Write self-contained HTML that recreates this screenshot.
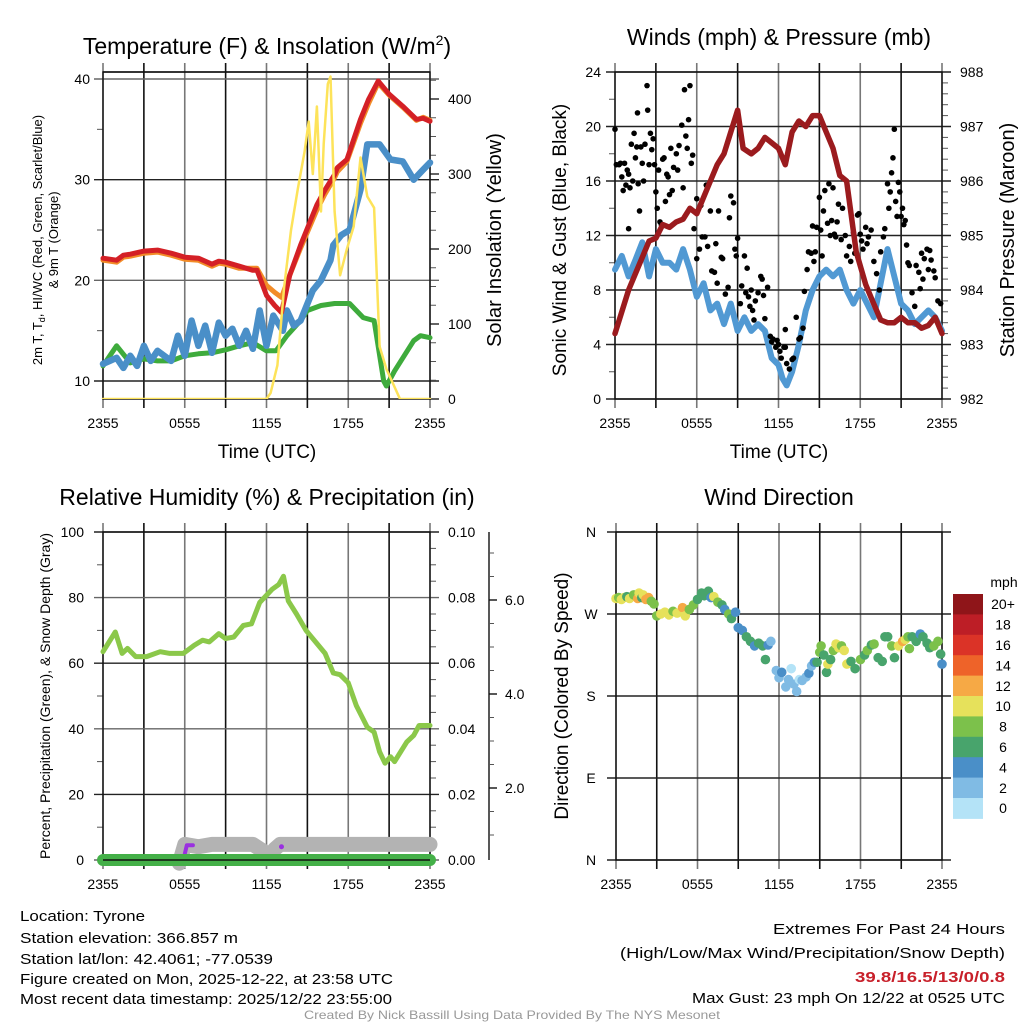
<!DOCTYPE html>
<html><head><meta charset="utf-8">
<style>
html,body{margin:0;padding:0;background:#fff;}
svg{display:block;font-family:"Liberation Sans",sans-serif;}
</style></head>
<body>
<svg id="c" width="1024" height="1024" viewBox="0 0 1024 1024" xmlns="http://www.w3.org/2000/svg">
<rect width="1024" height="1024" fill="#fff"/>
<g id="g"></g>
<text x="267" y="54" font-size="23" text-anchor="middle">Temperature (F) &amp; Insolation (W/m<tspan dy="-9" font-size="14">2</tspan><tspan dy="9">)</tspan></text>
<text x="779" y="45" font-size="23" text-anchor="middle">Winds (mph) &amp; Pressure (mb)</text>
<text x="267" y="505" font-size="23" text-anchor="middle">Relative Humidity (%) &amp; Precipitation (in)</text>
<text x="779" y="505" font-size="23" text-anchor="middle">Wind Direction</text>

<text transform="translate(42,240) rotate(-90)" font-size="13" text-anchor="middle">2m T, T<tspan font-size="9" dy="3">d</tspan><tspan dy="-3">, HI/WC (Red, Green, Scarlet/Blue)</tspan></text>
<text transform="translate(58,240) rotate(-90)" font-size="13" text-anchor="middle">&amp; 9m T (Orange)</text>
<text transform="translate(501,240) rotate(-90)" font-size="20" text-anchor="middle">Solar Insolation (Yellow)</text>
<text transform="translate(566,240) rotate(-90)" font-size="19" text-anchor="middle">Sonic Wind &amp; Gust (Blue, Black)</text>
<text transform="translate(1014,240) rotate(-90)" font-size="20" text-anchor="middle">Station Pressure (Maroon)</text>
<text transform="translate(50,696) rotate(-90)" font-size="14" text-anchor="middle">Percent, Precipitation (Green), &amp; Snow Depth (Gray)</text>
<text transform="translate(568,696) rotate(-90)" font-size="19" text-anchor="middle">Direction (Colored By Speed)</text>
<text x="267" y="458" font-size="19" text-anchor="middle">Time (UTC)</text>
<text x="779" y="458" font-size="19" text-anchor="middle">Time (UTC)</text>

<g font-size="15">
<text x="20" y="921" textLength="125" lengthAdjust="spacingAndGlyphs">Location: Tyrone</text>
<text x="20" y="943" textLength="218" lengthAdjust="spacingAndGlyphs">Station elevation: 366.857 m</text>
<text x="20" y="964" textLength="253" lengthAdjust="spacingAndGlyphs">Station lat/lon: 42.4061; -77.0539</text>
<text x="20" y="984" textLength="373" lengthAdjust="spacingAndGlyphs">Figure created on Mon, 2025-12-22, at 23:58 UTC</text>
<text x="20" y="1004" textLength="372" lengthAdjust="spacingAndGlyphs">Most recent data timestamp: 2025/12/22 23:55:00</text>
</g>
<g font-size="15" text-anchor="end">
<text x="1005" y="934" textLength="232" lengthAdjust="spacingAndGlyphs">Extremes For Past 24 Hours</text>
<text x="1005" y="958" textLength="385" lengthAdjust="spacingAndGlyphs">(High/Low/Max Wind/Precipitation/Snow Depth)</text>
<text x="1005" y="982" textLength="150" lengthAdjust="spacingAndGlyphs" fill="#c8202a" font-weight="bold">39.8/16.5/13/0/0.8</text>
<text x="1005" y="1003" textLength="313" lengthAdjust="spacingAndGlyphs">Max Gust: 23 mph On 12/22 at 0525 UTC</text>
</g>
<text x="512" y="1019" font-size="12" fill="#999" text-anchor="middle" textLength="416" lengthAdjust="spacingAndGlyphs">Created By Nick Bassill Using Data Provided By The NYS Mesonet</text>
</svg>
<script>
// ---------- DATA ----------
const xTickLabels = ["2355","0555","1155","1755","2355"];
// Temperature panel (hours since 2355)
const tempT = [0,1,1.5,2,3,4,5,6,7,8,8.5,9,10,11,11.3,12,12.6,13.1,13.7,14.5,15.7,16.3,17,17.2,17.9,18.9,19.5,20.2,21,22,23,23.5,24];
const tempRed = [22.2,22.0,22.5,22.6,22.9,23.0,22.7,22.3,22.2,21.6,21.9,21.8,21.4,21.0,21.0,18.5,17.5,16.8,20.5,23.5,27.5,29,30.5,31.2,32,36,38,39.8,38.5,37.3,36,36.1,35.8];
const tempOrange = [22.0,21.8,22.3,22.4,22.7,22.8,22.5,22.1,22.0,21.4,21.7,21.6,21.2,21.2,21.2,19.5,18.8,18.3,20.5,23.2,27,28.6,30.2,30.8,31.8,35.6,37.6,39.6,38.4,37.2,35.9,36.2,35.9];
const dewT = [0,0.5,1,2,3,4,5,6,7,8,9,10,11,12,12.7,13.5,14.5,15,16,17,18.1,19.1,19.9,20.6,20.8,21.4,22.8,23.3,24];
const dewV = [11.5,12.5,13.5,11.8,12.2,12.0,12.0,12.5,12.7,12.8,13.1,13.5,13.8,13.0,13.0,14.5,16.0,17.0,17.5,17.7,17.7,16.3,16.0,10.0,9.5,11,14,14.5,14.3];
const wcT = [0,0.5,1,1.5,2,2.5,3,3.5,4,5,5.5,6,6.5,7,7.5,8,8.5,9,9.5,10,10.5,11,11.5,12,12.5,13.2,13.5,14,14.5,15.4,16,16.7,16.9,17.5,18.1,18.9,19.4,20.3,21.1,22,22.8,23.5,24];
const wcV = [11.7,12,12.3,11.3,12.5,11.5,13.5,12,13,12,14.5,12.5,16,13.5,15.5,12.8,15.8,14.5,15.2,13.5,15,13.2,17,13.5,16.5,15,17,15.5,16,19,20,22,23.5,24.5,25,29,33.5,33.5,32,31.8,30,31,31.7];
const solarT = [0,12,12.3,12.8,13.3,13.8,14.3,14.8,15.1,15.4,15.7,16.0,16.2,16.5,16.7,17.0,17.4,17.9,18.4,18.9,19.4,19.9,20.3,20.8,21.3,21.8,24];
const solarV = [0,0,8,45,150,225,280,330,370,300,390,250,340,420,430,250,165,200,230,322,270,255,70,40,20,0,0];
// Wind panel
const windT = [0,0.5,1,1.5,2,2.5,3,3.5,4,4.5,5,5.5,6,6.5,7,7.5,8,8.5,9,9.5,10,10.5,11,11.5,12,12.3,12.6,13,13.5,14,14.5,15,15.5,16,16.5,17,17.5,18,18.5,19,19.5,20,20.5,21,21.5,22,22.5,23,23.5,24];
const windV = [9.5,10.5,9,10.2,11.5,9,11,10,10,9.5,11,9.5,7.5,8.5,6.5,7,5.5,7,5,6,5,5.5,5,3,2.5,1.5,1,2,4,6.5,8,9,9.5,9,9.5,8,7,8,7,6,8.5,11,9,7,6.5,5.5,6,6.5,6,5];
const presT = [0,0.5,1,1.5,2,2.5,3,3.5,4,4.5,5,5.5,6,6.5,7,7.5,8,8.5,9,9.4,10,10.5,11,11.5,12,12.5,13,13.5,14,14.5,15,15.5,16,16.5,17,17.7,18.4,18.9,19.5,20,20.5,21,21.5,22,22.5,23,23.5,24];
const presV = [983.2,983.6,984.0,984.3,984.6,984.9,984.95,985.2,985.15,985.25,985.3,985.5,985.4,985.7,986.0,986.3,986.5,986.9,987.3,986.6,986.5,986.6,986.8,986.7,986.6,986.3,986.9,987.1,987.0,987.2,987.2,986.9,986.6,986.1,986.0,984.7,984.1,983.8,983.45,983.4,983.4,983.5,983.4,983.4,983.3,983.35,983.5,983.2];
const gustT = [0,0.1,0.3,0.4,0.5,0.6,0.7,0.8,0.9,1.0,1.0,1.1,1.2,1.3,1.4,1.5,1.6,1.65,1.7,1.8,1.9,2.0,2.1,2.2,2.35,2.4,2.5,2.6,2.7,2.8,2.9,3.0,3.1,3.2,3.3,3.4,3.5,3.6,3.7,3.8,3.9,4.0,4.1,4.2,4.3,4.5,4.6,4.7,4.9,5.0,5.1,5.2,5.3,5.4,5.5,5.6,5.7,5.8,6.0,6.0,6.2,6.3,6.4,6.6,6.7,6.8,7.0,7.1,7.3,7.4,7.5,7.6,7.8,7.9,8.1,8.3,8.4,8.5,8.7,8.8,8.9,9.0,9.2,9.3,9.5,9.6,9.7,9.8,9.9,10.0,10.1,10.2,10.3,10.5,10.7,10.8,10.9,11.0,11.2,11.4,11.5,11.6,11.8,11.9,12.0,12.1,12.2,12.4,12.5,12.5,12.6,12.8,13.0,13.1,13.3,13.5,13.6,13.8,13.9,14.1,14.2,14.4,14.5,14.6,14.7,14.8,15.0,15.1,15.2,15.3,15.4,15.6,15.7,15.8,15.9,16.0,16.1,16.2,16.3,16.4,16.6,16.7,16.9,17.0,17.2,17.3,17.5,17.6,17.8,17.9,18.0,18.1,18.2,18.4,18.5,18.6,18.8,19.0,19.2,19.4,19.5,19.7,19.8,20.0,20.1,20.2,20.3,20.4,20.5,20.6,20.7,20.8,20.9,21.0,21.1,21.2,21.3,21.4,21.5,21.6,21.8,22.0,22.1,22.3,22.4,22.5,22.6,22.7,22.9,23.0,23.1,23.2,23.4,23.5,23.7,23.9];
const gustV = [19.8,17.2,17.2,17.3,16.3,15.3,17.3,15.7,16.8,16.5,12.5,15.5,18.7,16,19.5,17.7,18.5,21,15.8,13.8,18.5,17.3,16,18.7,23,21.2,17.2,19.5,18.3,19.1,17.2,15.2,14,16.8,13,12.8,17.6,17.7,14.5,16.5,16.3,15.0,18.4,15.3,17.0,18,16.8,18.6,20.1,15.5,22.7,19.3,18.4,20.5,23,17.3,17.9,12.5,14.7,10.3,11,14.2,11.9,11.9,15.7,11.2,13.8,9.4,9.3,11.4,8.5,13.8,10.4,10.3,7.7,8.2,13.3,14.9,14.4,11,10.5,11.8,7,8.3,10.5,7.8,9.6,7.5,6.8,8,6.5,5.8,7.2,7.8,9,8.8,7.6,5.9,8.2,4.6,4.2,4.4,3.8,4.3,4.0,3.5,3.0,3.8,3.8,5.1,2.6,2.2,2.9,3.0,6.0,4.4,4.5,5.2,7.9,9.5,10.8,10.7,12.7,10.1,10.8,12.6,14.8,12.4,10.5,13.8,15.3,12.9,15.8,12.0,13.1,15.5,12.1,11.9,13.0,14.3,11.7,14,12.0,10.5,11.2,10.1,12.2,10.7,13.5,13.6,12.1,11.6,11.0,12.6,11.4,11.9,12.4,10.1,9.2,8.0,10.8,11.9,12.5,15.8,14.0,15.2,16.6,17.7,19.8,14.5,13.4,15.9,15.2,13.4,14.0,12.8,13.1,11.3,10.0,9.8,7.8,6.8,9.8,9.3,8.1,10.7,8.8,10.3,11.0,9.5,10.9,10.2,9.4,8.9,7.2,7.0];
// RH panel
const rhT = [0,0.9,1.4,1.8,2.4,3.2,4.2,4.9,5.9,6.7,7.3,7.8,8.5,9.0,9.6,10.3,10.9,11.5,12.4,12.9,13.25,13.6,14.2,14.9,15.7,16.3,16.9,17.4,18.0,18.6,19.4,19.9,20.3,20.7,21.1,21.4,22.3,22.8,23.2,24];
const rhV = [63.5,69.5,63,64.5,62,62,63.5,63,63,65.5,67,66.5,69,67.5,68,71.5,72,78.5,82.5,84,86.5,79,75,70,66,63,57,56.5,54,47,40.5,39,33,29.5,31.5,30,36,38,41,41];
const precipT = [0,24];
const precipV = [0,0];
const snowT = [5.6,6.0,7.0,8.0,11.0,11.8,12.2,12.6,13.0,24];
const snowV = [0.4,0.8,0.75,0.8,0.8,0.65,0.5,0.7,0.8,0.8];
const snowMarkT = [6.0,6.15,6.6];
const snowMarkV = [0.6,0.78,0.78];
const snowDotT = [13.1];
const snowDotV = [0.75];
// Wind direction panel
const dirT = [0,0.2,0.4,0.6,0.8,1.0,1.3,1.6,1.7,1.9,2.0,2.2,2.4,2.6,2.8,3.0,3.3,3.6,3.9,4.2,4.5,4.9,5.1,5.4,5.7,6.0,6.3,6.5,6.8,7.0,7.2,7.5,7.8,8.0,8.3,8.5,8.8,9.0,9.3,9.6,9.9,10.2,10.5,10.8,11.0,11.2,11.4,11.8,12.0,12.2,12.5,12.7,12.9,13.1,13.3,13.5,13.7,14.0,14.2,14.4,14.6,14.8,15.0,15.1,15.3,15.5,15.6,15.8,16.0,16.2,16.4,16.6,16.8,17.0,17.3,17.6,18.0,18.3,18.5,18.8,19.0,19.3,19.6,19.8,20.0,20.3,20.5,20.8,21.1,21.3,21.5,21.6,21.8,22.1,22.4,22.6,22.9,23.1,23.4,23.7,23.9,24];
const dirV = [287,288,286,288,289,287,291,287,293,288,291,286,288,284,281,268,270,272,269,273,271,277,268,275,280,286,293,290,295,288,289,283,280,275,270,265,272,255,252,245,240,235,238,235,220,236,240,208,200,206,190,198,210,193,185,198,197,201,205,213,217,217,228,235,225,206,215,220,230,237,233,235,230,215,218,210,220,225,230,236,237,222,218,245,245,235,222,235,240,242,245,232,245,240,248,245,238,233,235,240,226,215];
const dirSpd = [10,9,10,10,7,10,9,12,10,7,10,12,12,8,8,8,10,10,10,8,10,12,10,8,8,7,6,6,6,5,10,8,6,4,8,6,4,4,5,6,6,4,6,6,6,4,2,2,2,4,2,2,1,2,2,0,2,3,4,2,4,6,8,8,6,6,10,7,8,10,10,8,10,10,6,6,8,7,8,6,8,7,6,7,6,8,6,10,12,10,8,8,6,7,4,6,7,6,8,8,6,4];
const cbLabels = ["20+","18","16","14","12","10","8","6","4","2","0"];
const cbColors = ["#8f1519","#bd1e26","#db3327","#ee6329","#f6a945","#e6e15b","#7cc14b","#48a46c","#4a8fc8","#80bbe4","#b4e3f7"];

// ---------- DRAW ----------
const NS = "http://www.w3.org/2000/svg";
const G = document.getElementById('g');
function el(tag, attrs, parent){ const e=document.createElementNS(NS,tag); for(const k in attrs) e.setAttribute(k,attrs[k]); (parent||G).appendChild(e); return e; }
function txt(s,x,y,size,anchor,parent){ const t=el('text',{x:x,y:y,'font-size':size,'text-anchor':anchor||'middle'},parent); t.textContent=s; return t; }
function linScale(d0,d1,r0,r1){ return v=>r0+(v-d0)*(r1-r0)/(d1-d0); }
function pathD(ts,vs,sx,sy){ return ts.map((t,i)=>(i?'L':'M')+sx(t).toFixed(1)+','+sy(vs[i]).toFixed(1)).join(''); }

function panel(name,x0,x1,yTop,yBot){
  const g=el('g',{});
  
  
  const sx=linScale(0,24,x0,x1);
  for(let i=0;i<=8;i++){
    const x=x0+i*(x1-x0)/8;
    const l=el('line',{x1:x,x2:x,y1:yTop-9,y2:yBot+9,stroke:(i%2?'#111':'#777'),'stroke-width':1.6},g);
    
    
  }
  for(let i=0;i<5;i++){
    const t=txt(xTickLabels[i],x0+i*(x1-x0)/4,yBot+29,14,'middle',g);
    
    
  }
  return {g,sx};
}
function hgrid(g,x0,x1,y,color){ el('line',{x1:x0-9,x2:x1+9,y1:y,y2:y,stroke:color||'#222','stroke-width':1.4},g); }
function minorTick(g,x,y,dir){ el('line',{x1:x,x2:x+dir*6,y1:y,y2:y,stroke:'#555','stroke-width':1},g); }

// ===== Panel 1 : temperature =====
(function(){
  const x0=103,x1=430,yT=72,yB=399;
  const {g,sx}=panel('temperature-panel',x0,x1,yT,yB);
  const sy=linScale(10,40,381,79);
  const ss=linScale(0,400,399,99);
  [10,20,30,40].forEach(v=>{ hgrid(g,x0,x1,sy(v),v%20?'#222':'#666'); const t=txt(String(v),90,sy(v)+5,14,'end',g);   });
  [15,25,35].forEach(v=>minorTick(g,x0,sy(v),-1));
  [0,100,200,300,400].forEach(v=>{ el('line',{x1:x1,x2:x1+9,y1:ss(v),y2:ss(v),stroke:'#222','stroke-width':1.4},g); const t=txt(String(v),448,ss(v)+5,14,'start',g);   });
  for(let v=25;v<=425;v+=25) if(v%100) minorTick(g,x1,ss(v),1);
  el('line',{x1:x0,x2:x1,y1:yT,y2:yT,stroke:'#111','stroke-width':1.4},g);
  el('rect',{x:x0,y:yT,width:x1-x0,height:yB-yT,fill:'none',stroke:'#111','stroke-width':1.4},g);
  const clip=el('clipPath',{id:'cp1'},g); el('rect',{x:x0-4,y:yT,width:x1-x0+8,height:yB-yT},clip);
  const s=el('g',{'clip-path':'url(#cp1)',fill:'none','stroke-linejoin':'round','stroke-linecap':'round'},g);
  const p1=el('path',{d:pathD(dewT,dewV,sx,sy),stroke:'#3eab3c','stroke-width':5},s);
   
  const p2=el('path',{d:pathD(wcT,wcV,sx,sy),stroke:'#4a8fc8','stroke-width':6.5},s);
   
  const p3=el('path',{d:pathD(tempT,tempOrange,sx,sy),stroke:'#f28c28','stroke-width':5},s);
   
  const p4=el('path',{d:pathD(tempT,tempRed,sx,sy),stroke:'#d42026','stroke-width':5},s);
   
  const p5=el('path',{d:pathD(solarT,solarV,sx,ss),stroke:'#fde35a','stroke-width':2.5},s);
   
})();

// ===== Panel 2 : winds =====
(function(){
  const x0=615,x1=942,yT=72,yB=399;
  const {g,sx}=panel('wind-panel',x0,x1,yT,yB);
  const sy=linScale(0,24,399,72);
  const sp=linScale(982,988,399,72);
  [0,4,8,12,16,20,24].forEach(v=>{ hgrid(g,x0,x1,sy(v)); const t=txt(String(v),601,sy(v)+5,14,'end',g);   });
  [2,6,10,14,18,22].forEach(v=>minorTick(g,x0,sy(v),-1));
  [982,983,984,985,986,987,988].forEach(v=>{ const t=txt(String(v),960,sp(v)+5,14,'start',g);   });
  for(let v=982.2;v<988;v+=0.2){ if(Math.abs(v-Math.round(v))>0.05) minorTick(g,x1,sp(v),1); }
  el('rect',{x:x0,y:yT,width:x1-x0,height:yB-yT,fill:'none',stroke:'#111','stroke-width':1.4},g);
  const s=el('g',{fill:'none','stroke-linejoin':'round','stroke-linecap':'round'},g);
  const w=el('path',{d:pathD(windT,windV,sx,sy),stroke:'#5199d3','stroke-width':6},s);
   
  gustT.forEach((t,i)=>{ const c=el('circle',{cx:sx(t),cy:sy(gustV[i]),r:2.8,fill:'#000'},g);
    
     });
  const p=el('path',{d:pathD(presT,presV,sx,sp),stroke:'#9b1b1e','stroke-width':5.5,fill:'none','stroke-linejoin':'round','stroke-linecap':'round'},g);
   
})();

// ===== Panel 3 : RH =====
(function(){
  const x0=103,x1=430,yT=532,yB=860;
  const {g,sx}=panel('humidity-panel',x0,x1,yT,yB);
  const sy=linScale(0,100,860,532);
  const sq=linScale(0,0.1,860,532);
  const sn=linScale(0,2,882,788);
  [0,20,40,60,80,100].forEach(v=>{ hgrid(g,x0,x1,sy(v),v%40?'#222':'#666'); const t=txt(String(v),84,sy(v)+5,14,'end',g);   });
  [10,30,50,70,90].forEach(v=>minorTick(g,x0,sy(v),-1));
  [0,0.02,0.04,0.06,0.08,0.1].forEach(v=>{ const t=txt(v.toFixed(2),448,sq(v)+5,14,'start',g);   });
  for(let k=1;k<20;k++) if(k%4) minorTick(g,x1,sq(k*0.005),1);
  el('line',{x1:489,x2:489,y1:532,y2:860,stroke:'#111','stroke-width':1.4},g);
  [2,4,6].forEach(v=>{ el('line',{x1:489,x2:497,y1:sn(v),y2:sn(v),stroke:'#111','stroke-width':1.4},g); const t=txt(v.toFixed(1),505,sn(v)+5,14,'start',g);   });
  [1,1.5,2.5,3,3.5,4.5,5,5.5,6.5,7].forEach(v=>el('line',{x1:489,x2:494,y1:sn(v),y2:sn(v),stroke:'#555','stroke-width':1},g));
  el('rect',{x:x0,y:yT,width:x1-x0,height:yB-yT,fill:'none',stroke:'#111','stroke-width':1.4},g);
  const s=el('g',{fill:'none','stroke-linejoin':'round','stroke-linecap':'round'},g);
  const sd=el('path',{d:pathD(snowT,snowV,sx,sn),stroke:'#b3b3b3','stroke-width':15},s);
   
  const sm=el('path',{d:pathD(snowMarkT,snowMarkV,sx,sn),stroke:'#9a30e0','stroke-width':4},s);
   
  snowDotT.forEach((t,i)=>{ const c=el('circle',{cx:sx(t),cy:sn(snowDotV[i]),r:2.5,fill:'#9a30e0'},g);
      });
  const pr=el('path',{d:pathD(precipT,precipV,sx,sq),stroke:'#44b048','stroke-width':12},s);
   
  el('line',{x1:x0,x2:x1,y1:yB,y2:yB,stroke:'#111','stroke-width':1.4},g);
  const rh=el('path',{d:pathD(rhT,rhV,sx,sy),stroke:'#8bc84a','stroke-width':5},s);
   
})();

// ===== Panel 4 : direction =====
(function(){
  const x0=616,x1=942,yT=532,yB=860;
  const {g,sx}=panel('direction-panel',x0,x1,yT,yB);
  const sy=linScale(0,360,860,532);
  const dl=["N","E","S","W","N"];
  [0,90,180,270,360].forEach((v,i)=>{ hgrid(g,x0,x1,sy(v)); const t=txt(dl[i],591,sy(v)+5,14,'middle',g);   });
  el('rect',{x:x0,y:yT,width:x1-x0,height:yB-yT,fill:'none',stroke:'#111','stroke-width':1.4},g);
  function col(s){ let k=Math.floor(s/2); if(k>10)k=10; return cbColors[10-k]; }
  dirT.forEach((t,i)=>{ const c=el('circle',{cx:sx(t),cy:sy(dirV[i]),r:4.8,fill:col(dirSpd[i])},g);
    
     });
  const cb=el('g',{});
  
  
  const h=20.4, top=594;
  cbColors.forEach((c,i)=>{ el('rect',{x:953,y:top+i*h,width:30,height:h+0.5,fill:c},cb);
    txt(cbLabels[i],1003,top+i*h+h/2+5,14,'middle',cb); });
  txt('mph',1004,587,14,'middle',cb);
})();
</script>
</body></html>
